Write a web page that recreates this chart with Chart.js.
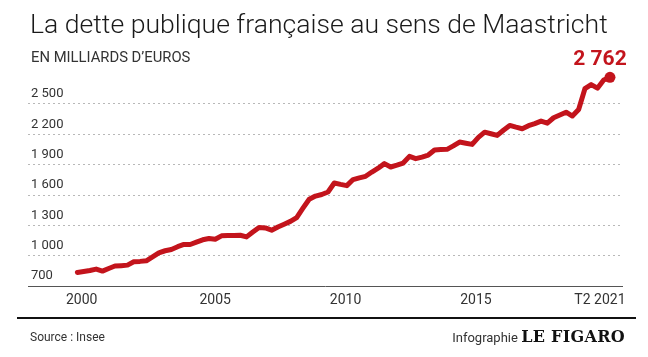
<!DOCTYPE html>
<html lang="fr">
<head>
<meta charset="utf-8">
<script src="https://cdn.jsdelivr.net/npm/chart.js@4.4.0/dist/chart.umd.min.js"></script>
<style>
  html, body { margin:0; padding:0; background:#fff; }
  body { width:648px; height:357px; position:relative; overflow:hidden; font-family:Roboto, "Noto Sans", sans-serif; }
  #c { position:absolute; left:0; top:0; }
  .t { position:absolute; white-space:nowrap; line-height:1; }
  #title { left:30px; top:11px; font-size:26.6px; font-weight:300; color:#1a1a1a; }
  #sub { left:31px; top:50px; font-size:14.8px; font-weight:400; color:#333; }
  #rule { position:absolute; left:17px; top:317px; width:619px; height:2px; background:#111; }
  #src { left:30px; top:331px; font-size:12px; color:#333; }
  #credit { right:23px; top:329px; font-size:13px; color:#333; }
  #credit b { font-family:"DejaVu Serif", serif; font-weight:bold; font-size:16px; color:#111; letter-spacing:0.3px; }
</style>
</head>
<body>
<canvas id="c" width="648" height="357"></canvas>
<div class="t" id="title">La dette publique française au sens de Maastricht</div>
<div class="t" id="sub">EN MILLIARDS D’EUROS</div>
<div id="rule"></div>
<div class="t" id="src">Source : Insee</div>
<div class="t" id="credit">Infographie <b>LE FIGARO</b></div>
<script>
// Quarterly Maastricht debt, bn €, from 2000 T1 to 2021 T2
const startYear = 2000;
const debt = [
  836, 845, 855, 869, 849, 875, 899, 903, 908, 941, 945, 951,
  990, 1030, 1050, 1063, 1090, 1112, 1112, 1135, 1158, 1171, 1164, 1197,
  1200, 1201, 1203, 1187, 1235, 1280, 1275, 1253, 1285, 1312, 1340, 1378,
  1470, 1558, 1590, 1605, 1630, 1719, 1705, 1693, 1753, 1770, 1785, 1827,
  1865, 1910, 1877, 1895, 1916, 1982, 1959, 1975, 1995, 2045, 2050, 2051,
  2085, 2123, 2112, 2100, 2170, 2221, 2205, 2189, 2240, 2287, 2270, 2255,
  2285, 2305, 2330, 2310, 2363, 2390, 2418, 2380, 2445, 2650, 2690, 2655,
  2735, 2762
];
const lastLabel = "2 762";
const yTicks = [700, 1000, 1300, 1600, 1900, 2200, 2500];
const xTickLabels = ["2000", "2005", "2010", "2015", "T2 2021"];
const xTickPos = [2000.17, 2005.5, 2010.7, 2015.9, 2020.85];

const points = debt.map((v, i) => ({ x: startYear + i / 4, y: v }));
const RED = '#c3141c';
const fmt = v => String(v).replace(/\B(?=(\d{3})+(?!\d))/g, ' ');

const endLabel = {
  id: 'endLabel',
  afterDatasetsDraw(chart) {
    const meta = chart.getDatasetMeta(0);
    const p = meta.data[meta.data.length - 1];
    const ctx = chart.ctx;
    ctx.save();
    ctx.fillStyle = RED;
    ctx.font = 'bold 21px Roboto';
    ctx.textAlign = 'center';
    ctx.textBaseline = 'alphabetic';
    ctx.fillText(lastLabel, p.x - 10, p.y - 12);
    ctx.restore();
  }
};

new Chart(document.getElementById('c'), {
  type: 'line',
  data: {
    datasets: [{
      data: points,
      borderColor: RED,
      backgroundColor: RED,
      borderWidth: 5,
      borderJoinStyle: 'round',
      borderCapStyle: 'round',
      tension: 0,
      clip: false,
      pointRadius: ctx => ctx.dataIndex === debt.length - 1 ? 5.5 : 0,
      pointBorderWidth: 0,
      pointHoverRadius: 0
    }]
  },
  options: {
    responsive: false,
    animation: false,
    devicePixelRatio: 1,
    events: [],
    layout: { padding: { left: 28, right: 26, top: 73.5, bottom: 42 } },
    plugins: { legend: { display: false }, tooltip: { enabled: false }, title: { display: false } },
    scales: {
      x: {
        type: 'linear',
        min: 1998.03,
        max: 2021.73,
        afterBuildTicks: s => { s.ticks = xTickPos.map(v => ({ value: v })); },
        ticks: {
          autoSkip: false,
          maxRotation: 0,
          padding: 6,
          color: '#333',
          font: { family: 'Roboto', size: 14 },
          callback: (v, i) => xTickLabels[i]
        },
        grid: { display: false, drawTicks: false },
        border: { display: true, color: '#555', width: 1 }
      },
      y: {
        min: 700,
        max: 2800,
        afterBuildTicks: s => { s.ticks = yTicks.map(v => ({ value: v })); },
        afterFit: s => { s.width = 0; },
        ticks: {
          mirror: true,
          padding: 3,
          labelOffset: -10,
          color: '#333',
          font: { family: 'Roboto', size: 13 },
          callback: v => fmt(v)
        },
        grid: {
          drawTicks: false,
          color: ctx => (ctx.tick && ctx.tick.value === 700) ? 'rgba(0,0,0,0)' : '#b8b8b8',
          lineWidth: 1
        },
        border: { display: false, dash: [2, 3] }
      }
    }
  },
  plugins: [endLabel]
});
</script>
</body>
</html>
